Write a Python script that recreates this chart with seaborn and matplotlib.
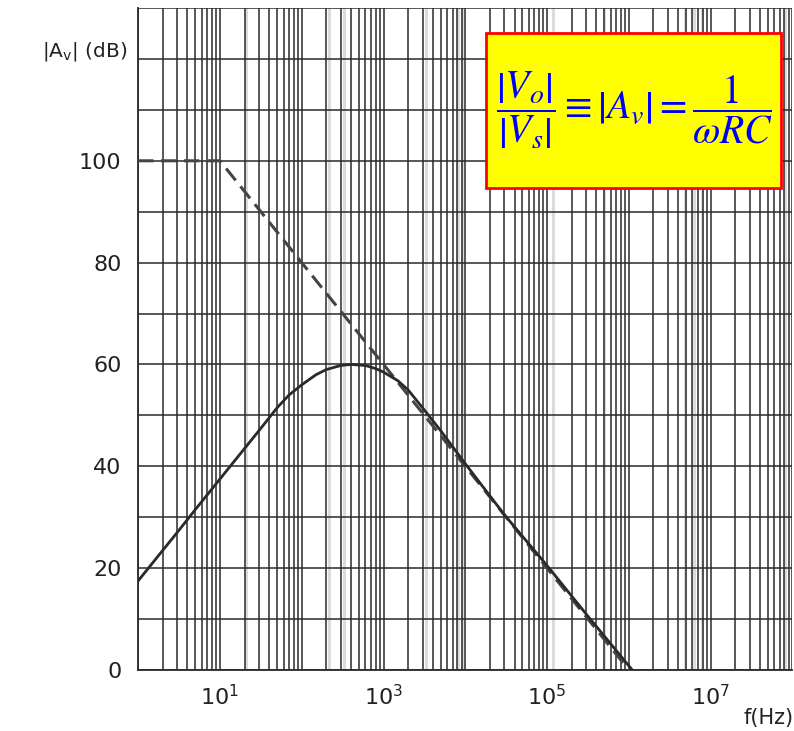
import numpy as np
import pandas as pd
import seaborn as sns
import matplotlib.pyplot as plt
from matplotlib.ticker import LogLocator, FixedLocator, NullFormatter
from matplotlib.patches import Rectangle

# asymptote (Bode straight-line approximation)
asym_f = [1, 10, 1e6]
asym_db = [100, 100, 0]

resp_f = [1, 2, 3, 5, 10, 20, 30, 50, 70, 100, 150, 200, 300, 400, 600, 800,
          1000, 1500, 2000, 3000, 5000, 1e4, 3e4, 1e5, 3e5, 1.1e6]
resp_db = [17.5, 23.5, 27, 31.5, 37.5, 43.5, 47, 51.5, 54, 56, 58, 59, 59.8, 60,
           59.8, 59.2, 58.5, 56.8, 55, 51.5, 47, 40.5, 30.5, 20.5, 11, 0]

ytick_vals = [0, 20, 40, 60, 80, 100]
decades = [1, 10, 1e2, 1e3, 1e4, 1e5, 1e6, 1e7, 1e8]
decade_labels = ["", "$10^1$", "", "$10^3$", "", "$10^5$", "", "$10^7$", ""]

# faint extra grid lines visible in the scan
faint_f = [20.6, 214, 327, 3300, 8200, 9100, 1.17e5, 4.9e5, 4.9e6, 6.3e6, 7.9e6, 8.1e7]

asym = pd.DataFrame({"f": asym_f, "dB": asym_db})
resp = pd.DataFrame({"f": resp_f, "dB": resp_db})

sns.set_style("white")
plt.rcParams["font.family"] = ["DejaVu Sans"]
plt.rcParams["mathtext.fontset"] = "dejavusans"

fig = plt.figure(figsize=(7.94, 7.31), dpi=100)
ax = fig.add_axes([0.174, 0.0835, 0.824, 0.9055])

for f in faint_f:
    ax.axvline(f, color="#dcdcdc", lw=2.2, zorder=0)

ax.set_xscale("log")
ax.set_xlim(1, 1e8)
ax.set_ylim(0, 130)

ax.xaxis.set_major_locator(FixedLocator(decades))
ax.set_xticklabels(decade_labels)
ax.xaxis.set_minor_locator(LogLocator(base=10, subs=np.arange(2, 10), numticks=100))
ax.xaxis.set_minor_formatter(NullFormatter())
ax.set_yticks(ytick_vals)
ax.set_yticks(np.arange(0, 131, 10), minor=True)

ax.grid(True, which="both", axis="both", color="#2a2a2a", lw=1.1, zorder=1)
ax.set_axisbelow(True)
ax.tick_params(axis="both", which="both", length=0, labelsize=16, labelcolor="#222222")
ax.tick_params(axis="x", pad=10)
ax.tick_params(axis="y", pad=12)

for s in ["top", "right"]:
    ax.spines[s].set_visible(False)
for s in ["left", "bottom"]:
    ax.spines[s].set_color("#2a2a2a")
    ax.spines[s].set_linewidth(1.3)

sns.lineplot(data=asym, x="f", y="dB", ax=ax, color="#444444", lw=2.2,
             linestyle=(0, (5, 2.5)), zorder=3)
sns.lineplot(data=resp, x="f", y="dB", ax=ax, color="#2a2a2a", lw=2, zorder=4)
ax.set_xlabel("")
ax.set_ylabel("")

fig.text(0.053, 0.929, "|A$_\\mathregular{v}$| (dB)", fontsize=14.5, color="#222222",
         ha="left", va="center")
fig.text(0.999, 0.018, "f(Hz)", fontsize=15, color="#222222", ha="right", va="center")

# formula box
ax.add_patch(Rectangle((0.531, 0.728), 0.452, 0.234, transform=ax.transAxes,
                       facecolor="#ffff00", edgecolor="#ff0000", lw=2, zorder=5))
ax.text(0.759, 0.845,
        r"$\dfrac{\left|V_o\right|}{\left|V_s\right|}\equiv\left|A_v\right|=\dfrac{1}{\omega RC}$",
        transform=ax.transAxes, fontsize=28.5, color="#0000ff", ha="center", va="center",
        math_fontfamily="stix", zorder=6)

fig.savefig("out.png", dpi=100)
